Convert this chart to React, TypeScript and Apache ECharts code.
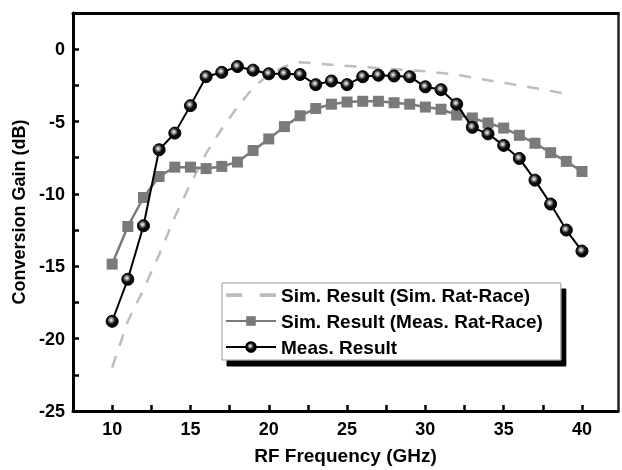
import React, { useEffect, useRef } from "react";
import * as echarts from "echarts";

// RF frequency (GHz) of the measured points
const freq = [10, 11, 12, 13, 14, 15, 16, 17, 18, 19, 20, 21, 22, 23, 24, 25, 26, 27, 28, 29, 30, 31, 32, 33, 34, 35, 36, 37, 38, 39, 40];
// Meas. Result (dB)
const measResult = [-18.8, -15.9, -12.2, -6.95, -5.8, -3.9, -1.9, -1.6, -1.2, -1.45, -1.7, -1.7, -1.75, -2.45, -2.2, -2.45, -1.9, -1.8, -1.85, -1.9, -2.6, -2.8, -3.8, -5.4, -5.85, -6.65, -7.55, -9.05, -10.7, -12.5, -13.95];
// Sim. Result (Meas. Rat-Race) (dB)
const simMeasRatRace = [-14.85, -12.25, -10.25, -8.8, -8.15, -8.15, -8.25, -8.1, -7.8, -7.0, -6.2, -5.35, -4.6, -4.1, -3.8, -3.65, -3.6, -3.6, -3.7, -3.8, -4.0, -4.15, -4.55, -4.75, -5.1, -5.45, -5.95, -6.5, -7.15, -7.75, -8.45];
// Sim. Result (Sim. Rat-Race)
const simFreq = [10, 11, 12, 13, 14, 15, 16, 17, 18, 18.6, 19, 20, 21, 22, 24, 26, 28, 30, 32, 34, 36, 38, 38.8];
const simSimRatRace = [-22.0, -18.8, -16.6, -14.2, -11.6, -9.3, -7.2, -5.5, -4.0, -3.2, -2.65, -1.75, -1.2, -0.9, -1.07, -1.23, -1.38, -1.53, -1.75, -2.15, -2.5, -2.88, -3.05];

const xLabels = [10, 15, 20, 25, 30, 35, 40];
const xTicks = [10, 12.5, 15, 17.5, 20, 22.5, 25, 27.5, 30, 32.5, 35, 37.5, 40];
const yLabels = [-25, -20, -15, -10, -5, 0];
const yTicks = [-25, -22.5, -20, -17.5, -15, -12.5, -10, -7.5, -5, -2.5, 0];

const seriesNames = ["Sim. Result (Sim. Rat-Race)", "Sim. Result (Meas. Rat-Race)", "Meas. Result"];

const FONT = "'Liberation Sans', Arial, sans-serif";

export default function App() {
  const ref = useRef<HTMLDivElement>(null);
  useEffect(() => {
    if (!ref.current) return;
    const chart = echarts.init(ref.current, null, { renderer: "svg" });
    const textBase = { fontFamily: FONT, fontWeight: "bold" as const, color: "#000" };
    const ballColor = {
      type: "radial",
      x: 0.42,
      y: 0.4,
      r: 0.6,
      colorStops: [
        { offset: 0, color: "#ffffff" },
        { offset: 0.25, color: "#9a9a9a" },
        { offset: 0.55, color: "#111111" },
        { offset: 1, color: "#000000" },
      ],
    };
    chart.setOption({
      animation: false,
      grid: { left: 73, top: 13, right: 4, bottom: 55 },
      xAxis: [
        {
          type: "value",
          min: 7.5,
          max: 42.3,
          position: "bottom",
          name: "RF Frequency (GHz)",
          nameLocation: "middle",
          nameGap: 35,
          nameTextStyle: { ...textBase, fontSize: 19 },
          axisLine: { show: true, onZero: false, lineStyle: { color: "#000", width: 3 } },
          axisTick: { show: true, inside: true, length: 6, lineStyle: { color: "#000", width: 2.5 }, customValues: xTicks },
          axisLabel: { ...textBase, fontSize: 18, margin: 9, customValues: xLabels },
          splitLine: { show: false },
        },
        {
          type: "value",
          min: 7.5,
          max: 42.3,
          position: "top",
          axisLine: { show: true, onZero: false, lineStyle: { color: "#000", width: 3 } },
          axisTick: { show: false },
          axisLabel: { show: false },
          splitLine: { show: false },
        },
      ],
      yAxis: [
        {
          type: "value",
          min: -25,
          max: 2.5,
          position: "left",
          name: "Conversion Gain (dB)",
          nameLocation: "middle",
          nameGap: 42,
          nameTextStyle: { ...textBase, fontSize: 18 },
          axisLine: { show: true, onZero: false, lineStyle: { color: "#000", width: 3 } },
          axisTick: { show: true, inside: true, length: 6, lineStyle: { color: "#000", width: 2.5 }, customValues: yTicks },
          axisLabel: { ...textBase, fontSize: 18, margin: 8, customValues: yLabels },
          splitLine: { show: false },
        },
        {
          type: "value",
          min: -25,
          max: 2.5,
          position: "right",
          axisLine: { show: true, onZero: false, lineStyle: { color: "#222", width: 2.5 } },
          axisTick: { show: false },
          axisLabel: { show: false },
          splitLine: { show: false },
        },
      ],
      legend: {
        orient: "vertical",
        left: 222,
        top: 283,
        padding: [2, 18, 3, 3],
        itemWidth: 50,
        itemHeight: 12,
        itemGap: 6,
        z: 10,
        backgroundColor: "#fff",
        borderColor: "#999",
        borderWidth: 1,
        borderRadius: 0,
        shadowColor: "#000",
        shadowBlur: 0,
        shadowOffsetX: 5,
        shadowOffsetY: 6,
        textStyle: { ...textBase, fontSize: 19, lineHeight: 20 },
        data: [
          { name: seriesNames[0], icon: "path://M0,0h13v3h-13zM27,0h13v3h-13z" },
          { name: seriesNames[1] },
          { name: seriesNames[2] },
        ],
      },
      series: [
        {
          name: seriesNames[0],
          type: "line",
          symbol: "none",
          lineStyle: { color: "#bdbdbd", width: 2.5, type: [12, 11] },
          itemStyle: { color: "#bdbdbd" },
          data: simFreq.map((f, i) => [f, simSimRatRace[i]]),
          z: 2,
        },
        {
          name: seriesNames[1],
          type: "line",
          symbol: "rect",
          symbolSize: 11,
          lineStyle: { color: "#7a7a7a", width: 2.5 },
          itemStyle: { color: "#7a7a7a" },
          data: freq.map((f, i) => [f, simMeasRatRace[i]]),
          z: 3,
        },
        {
          name: seriesNames[2],
          type: "line",
          symbol: "circle",
          symbolSize: 12,
          lineStyle: { color: "#000", width: 2 },
          itemStyle: { color: ballColor as any, borderColor: "#000", borderWidth: 1 },
          data: freq.map((f, i) => [f, measResult[i]]),
          z: 4,
        },
      ],
    });
    return () => chart.dispose();
  }, []);
  return <div ref={ref} style={{ position: "fixed", left: 0, top: 0, width: 622, height: 470 }} />;
}
